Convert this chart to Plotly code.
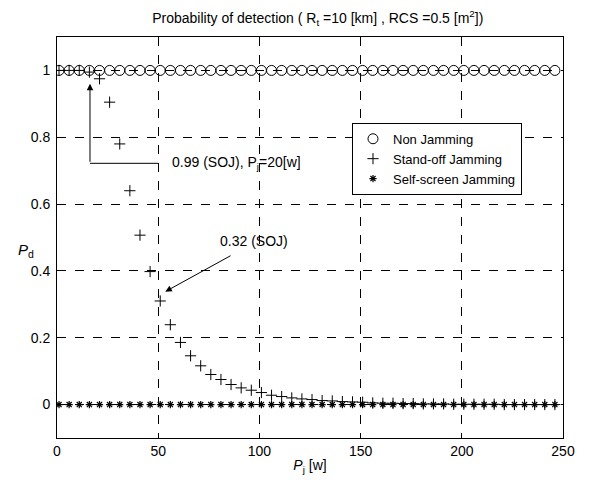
import plotly.graph_objects as go

# Jammer power Pj [w]
pj = [1, 6, 11, 16, 21, 26, 31, 36, 41, 46, 51, 56, 61, 66, 71, 76, 81, 86, 91, 96,
      101, 106, 111, 116, 121, 126, 131, 136, 141, 146, 151, 156, 161, 166, 171, 176,
      181, 186, 191, 196, 201, 206, 211, 216, 221, 226, 231, 236, 241, 246]

# Probability of detection, Non Jamming
pd_nj = [1.0] * 50

# Probability of detection, Stand-off Jamming
pd_soj = [1.0, 1.0, 1.0, 0.995, 0.975, 0.905, 0.78, 0.64, 0.507, 0.398,
          0.31, 0.239, 0.186, 0.146, 0.116, 0.09, 0.075, 0.06, 0.05, 0.043,
          0.036, 0.028, 0.024, 0.02, 0.017, 0.015, 0.012, 0.011, 0.009, 0.008,
          0.007, 0.005, 0.004, 0.004, 0.003, 0.003, 0.002, 0.002, 0.002, 0.001,
          0.001, 0.001, 0.001, 0.001, 0.0, 0.0, 0.0, 0.0, 0.0, 0.0]

# Probability of detection, Self-screen Jamming
pd_ssj = [0.0] * 50

x_ticks = [0, 50, 100, 150, 200, 250]
y_ticks = [0, 0.2, 0.4, 0.6, 0.8, 1]

FONT = "Liberation Sans, Arial, sans-serif"

fig = go.Figure()
fig.add_trace(go.Scatter(
    x=pj, y=pd_nj, mode="markers", name="Non Jamming",
    marker=dict(symbol="circle-open", size=10, color="black", line=dict(width=1, color="black")),
))
fig.add_trace(go.Scatter(
    x=pj, y=pd_soj, mode="markers", name="Stand-off Jamming",
    marker=dict(symbol="cross-thin", size=8, color="black", line=dict(width=1, color="black")),
))
fig.add_trace(go.Scatter(
    x=pj, y=pd_ssj, mode="markers", name="Self-screen Jamming",
    marker=dict(symbol="asterisk", size=6, color="black", line=dict(width=1.2, color="black")),
))

axis_common = dict(
    showline=True, linecolor="black", linewidth=1, mirror=True,
    showgrid=True, gridcolor="black", gridwidth=1, griddash="dash",
    zeroline=False, ticks="inside", ticklen=4, tickcolor="black",
    tickfont=dict(family=FONT, size=14, color="black"),
    automargin=False,
)

fig.update_xaxes(range=[0, 250], tickvals=x_ticks, **axis_common,
                 title=dict(text="<i>P</i><sub>j</sub> [w]", font=dict(family=FONT, size=14, color="black"), standoff=2))
fig.update_yaxes(range=[-0.1, 1.1], tickvals=y_ticks, ticklabelstandoff=3, **axis_common)

# annotation 1: vertical arrow + horizontal leader line
fig.add_shape(type="line", x0=16.3, y0=0.722, x1=50, y1=0.722, xref="x", yref="y",
              line=dict(color="black", width=1))
fig.add_annotation(x=16.3, y=0.96, ax=16.3, ay=0.722, xref="x", yref="y", axref="x", ayref="y",
                   text="", showarrow=True, arrowhead=2, arrowsize=1.3, arrowwidth=1, arrowcolor="black")
fig.add_annotation(x=56, y=0.722, xref="x", yref="y", xanchor="left", yanchor="middle",
                   text="0.99 (SOJ), P<sub>j</sub>=20[w]", showarrow=False,
                   font=dict(family=FONT, size=14, color="black"))

# annotation 2
fig.add_annotation(x=53.5, y=0.338, ax=86.5, ay=0.448, xref="x", yref="y", axref="x", ayref="y",
                   text="", showarrow=True, arrowhead=2, arrowsize=1.3, arrowwidth=1, arrowcolor="black")
fig.add_annotation(x=79.5, y=0.49, xref="x", yref="y", xanchor="left", yanchor="middle",
                   text="0.32 (SOJ)", showarrow=False,
                   font=dict(family=FONT, size=14, color="black"))

# y-axis label
fig.add_annotation(x=-0.062, y=0.462, xref="paper", yref="y", xanchor="center", yanchor="middle",
                   text="<i>P</i><sub>d</sub>", showarrow=False,
                   font=dict(family=FONT, size=15, color="black"))

fig.update_layout(
    width=590, height=484,
    margin=dict(l=49, r=35, t=29, b=54),
    paper_bgcolor="white", plot_bgcolor="white",
    title=dict(text="Probability of detection ( R<sub>t</sub> =10 [km] , RCS =0.5 [m<sup>2</sup>])",
               x=0.525, xanchor="center", y=0.979, yanchor="middle", yref="container",
               font=dict(family=FONT, size=14, color="black")),
    legend=dict(x=0.583, y=0.786, xanchor="left", yanchor="top",
                bgcolor="white", bordercolor="black", borderwidth=1,
                font=dict(family=FONT, size=13, color="black"),
                tracegroupgap=0, itemwidth=30),
    showlegend=True,
)

fig.write_html("out.html")
